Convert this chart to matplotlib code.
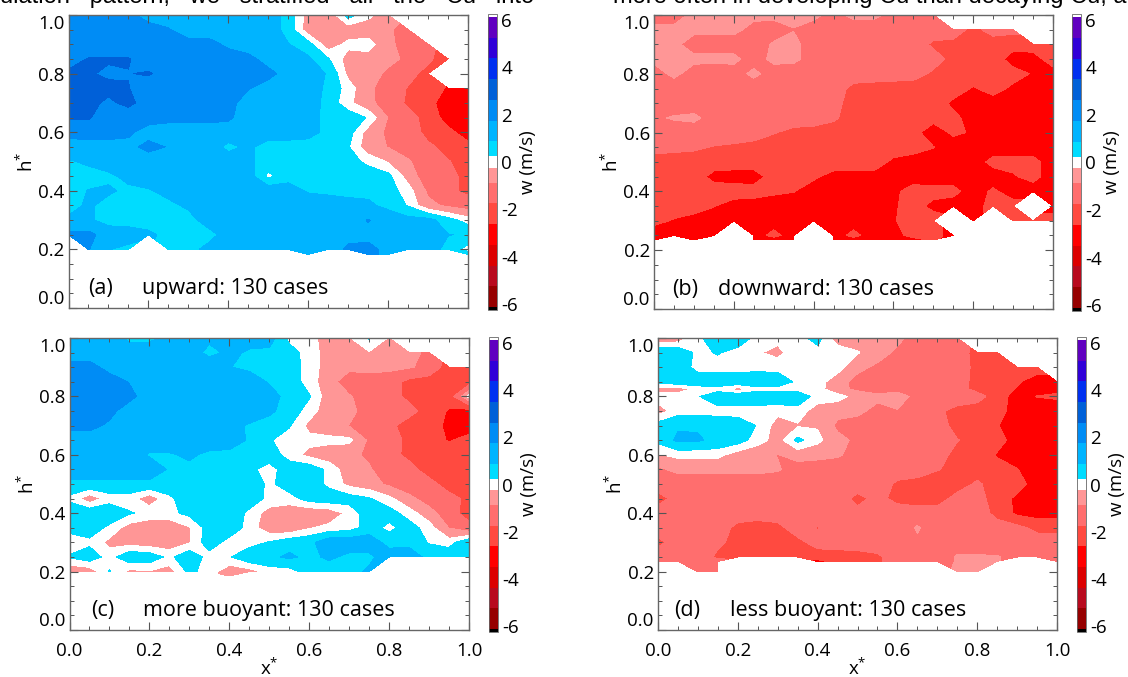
import numpy as np
import matplotlib
matplotlib.use('Agg')
import matplotlib.pyplot as plt

n = np.nan

# --- grid ---
x_star = [0.0, 0.05, 0.1, 0.15, 0.2, 0.25, 0.3, 0.35, 0.4, 0.45, 0.5,
          0.55, 0.6, 0.65, 0.7, 0.75, 0.8, 0.85, 0.9, 0.95, 1.0]
h_main = [1.0, 0.95, 0.9, 0.85, 0.8, 0.75, 0.7, 0.65, 0.6, 0.55, 0.5, 0.45, 0.4, 0.35, 0.3]

# colour steps of the w (m/s) bar
levels = [-6.25, -6.125, -5.25, -4.375, -3.5, -2.625, -1.75, -0.875, -0.25,
          0.25, 0.875, 1.75, 2.625, 3.5, 4.375, 5.25, 6.125, 6.25]
colors = ['#000000', '#960000', '#B80A1E', '#DC0000', '#FF0000', '#FF4A40', '#FF6E6E', '#FF9696',
          '#FFFFFF', '#00DCFF', '#00B4FF', '#008CF5', '#0060D8', '#0030F0', '#3000D8', '#6000C0', '#FFFFFF']
bar_ticks = [-6, -4, -2, 0, 2, 4, 6]

# (a) upward
h_a = h_main + [0.25, 0.2, 0.183]
w_a = [
    [2.0, 2.0, 2.0, 1.9, 1.5, 1.4, 1.4, 1.4, 1.4, 1.4, 1.3, 0.6, -0.5, -0.7, 0.5, -0.1, -0.6, n, n, n, n],
    [2.0, 2.0, 2.0, 2.0, 2.0, 1.8, 1.4, 1.4, 1.4, 1.4, 1.3, 0.6, -0.6, -0.6, -0.6, -0.6, -0.8, -1.1, n, n, n],
    [2.0, 2.0, 2.0, 2.0, 2.0, 2.0, 2.0, 2.0, 1.6, 1.3, 1.3, 0.9, 0.5, -0.6, -0.1, 0.0, -0.7, -1.2, -1.5, n, n],
    [2.2, 2.68, 2.7, 2.68, 2.2, 2.1, 2.1, 2.1, 2.1, 2.0, 1.4, 1.3, 1.0, 0.3, -0.5, -0.5, -0.7, -1.0, -1.6, -2.2, -2.1],
    [2.8, 2.7, 2.5, 2.6, 2.7, 2.3, 2.3, 2.3, 2.2, 2.1, 2.0, 1.4, 1.3, 0.8, -0.4, -0.6, -1.0, -1.5, -2.0, n, n],
    [3.0, 2.8, 2.8, 2.65, 2.2, 2.2, 2.2, 2.2, 2.1, 1.8, 1.4, 1.4, 1.3, 0.7, 0.0, -0.7, -1.3, -1.8, -2.3, -2.7, -2.8],
    [3.0, 2.8, 2.5, 2.8, 2.3, 2.2, 2.2, 2.2, 2.0, 1.4, 1.4, 1.4, 1.3, 0.6, -0.1, -0.7, -1.2, -1.9, -2.4, -3.0, -3.1],
    [2.7, 2.7, 2.2, 2.2, 2.1, 2.0, 2.0, 2.0, 1.9, 1.3, 1.3, 1.2, 1.1, 0.7, 0.6, 0.2, -0.9, -1.4, -2.1, -3.0, -3.1],
    [2.1, 2.1, 2.1, 1.9, 1.4, 1.3, 1.3, 1.3, 1.3, 1.1, 1.2, 1.2, 1.1, 0.7, 0.5, -0.5, -1.0, -1.3, -2.0, -2.4, -3.0],
    [1.3, 1.4, 1.4, 1.5, 2.0, 1.7, 1.3, 1.3, 0.7, 1.0, 0.6, 0.6, 0.6, 0.6, 0.3, -0.6, -0.9, -1.2, -1.6, -2.0, -2.4],
    [0.8, 1.0, 1.3, 1.3, 1.3, 1.3, 1.3, 1.3, 1.2, 1.0, 0.6, 0.6, 0.6, 0.6, 0.5, 0.1, -0.3, -0.8, -1.3, -1.7, -2.1],
    [0.6, 0.6, 0.7, 1.1, 1.3, 1.3, 1.3, 1.1, 1.2, 1.2, 0.1, 0.6, 0.6, 0.6, 0.6, 0.6, 0.4, -0.5, -1.3, -1.5, -2.0],
    [0.6, 0.9, 1.0, 0.7, 0.8, 1.1, 1.3, 1.3, 1.3, 1.3, 1.3, 1.2, 0.8, 0.7, 0.6, 0.7, 0.5, 0.0, -1.0, -1.5, -2.0],
    [0.6, 1.0, 0.6, 0.5, 0.6, 0.7, 1.0, 1.3, 1.3, 0.9, 1.3, 1.3, 1.3, 1.3, 1.2, 1.0, 0.7, 0.2, -0.7, -1.0, -1.2],
    [1.0, 1.0, 0.6, 0.6, 0.6, 0.5, 0.6, 1.2, 1.3, 0.9, 1.3, 1.3, 1.3, 1.3, 1.3, 1.8, 1.3, 1.1, 1.1, 0.5, 0.0],
    [2.0, 2.0, 1.3, 1.2, 1.0, 0.7, 0.6, 0.6, 1.2, 0.9, 1.3, 1.3, 1.3, 1.3, 1.5, 1.5, 1.3, 1.3, 1.3, 0.9, 0.8],
    [n, 1.8, 0.9, 0.7, n, 0.6, 0.6, 1.1, 1.2, 1.3, 1.3, 1.3, 1.3, 1.3, 1.9, 2.0, 1.5, 1.3, 1.3, 0.6, 0.0],
    [n, n, n, n, n, n, n, n, n, n, n, n, 1.3, n, n, 1.9, 1.6, n, n, n, 0.6],
]

# (b) downward
h_b = h_main + [0.25, 0.235]
w_b = [
    [-1.2, -1.2, -0.7, -0.7, -0.9, -0.7, -0.7, -0.7, -0.7, -1.1, -0.7, -0.7, -1.1, -1.2, -1.2, n, n, n, n, n, n],
    [-0.7, -0.7, -0.7, -0.7, -0.7, -1.1, -1.2, -0.9, -1.2, -1.3, -1.3, -1.3, -1.3, -1.3, -1.3, -1.3, -2.0, -1.4, -1.5, n, n],
    [-0.7, -0.7, -1.2, -1.2, -1.2, -1.2, -0.8, -0.7, -1.2, -1.3, -1.3, -1.3, -1.3, -1.3, -1.9, -2.0, -2.1, -2.2, -2.3, -2.2, -2.2],
    [-0.7, -0.7, -0.7, -0.7, -0.7, -1.2, -0.7, -0.7, -1.2, -1.3, -1.3, -1.3, -1.3, -1.3, -1.4, -2.0, -2.2, -2.2, -3.0, -3.0, -2.2],
    [-1.2, -0.7, -1.2, -1.3, -1.2, -0.7, -1.2, -1.3, -1.3, -1.3, -1.3, -1.3, -1.3, -1.4, -1.9, -2.2, -2.2, -2.2, -2.3, -2.7, -3.0],
    [-1.3, -1.3, -1.3, -1.3, -1.3, -1.3, -1.3, -1.3, -1.3, -1.3, -2.0, -2.1, -2.2, -2.2, -2.2, -2.2, -2.7, -2.3, -2.8, -3.0, -3.0],
    [-1.2, -1.3, -1.3, -1.3, -1.3, -1.3, -1.3, -1.6, -1.3, -1.4, -2.2, -2.2, -2.2, -2.2, -2.2, -2.8, -3.0, -3.0, -3.0, -3.0, -3.0],
    [-1.0, -0.8, -0.7, -1.2, -1.3, -1.3, -1.3, -1.3, -1.3, -1.6, -2.2, -2.2, -2.2, -2.4, -2.4, -2.4, -3.0, -3.0, -3.0, -3.0, -2.9],
    [-1.3, -1.3, -1.3, -1.3, -1.3, -1.3, -1.7, -2.0, -2.1, -2.2, -2.2, -2.2, -2.2, -2.4, -3.0, -2.5, -2.7, -3.0, -3.0, -3.0, -3.0],
    [-1.4, -1.5, -1.6, -1.8, -1.9, -2.1, -2.2, -2.2, -2.2, -2.2, -2.2, -2.2, -2.2, -2.3, -2.6, -3.0, -3.0, -3.0, -3.0, -3.0, -3.0],
    [-2.2, -2.2, -2.2, -2.2, -2.2, -2.2, -2.2, -2.2, -2.2, -2.2, -2.2, -2.2, -2.8, -3.0, -3.0, -3.0, -3.0, -2.4, -2.4, -2.4, -3.0],
    [-2.5, -2.2, -2.2, -2.9, -3.0, -3.0, -2.3, -2.3, -2.5, -2.9, -2.9, -2.9, -2.8, -3.0, -3.0, -3.0, -3.0, -3.0, -2.7, -2.4, -3.0],
    [-2.2, -2.2, -2.2, -2.2, -2.2, -2.3, -2.5, -2.6, -3.0, -3.0, -3.0, -3.0, -2.8, -2.3, -2.4, -2.4, -3.0, -2.5, -3.0, -3.0, -3.0],
    [-2.3, -2.2, -2.2, -2.6, -3.0, -3.0, -3.0, -3.0, -3.0, -3.0, -3.0, -3.0, -2.7, -2.4, -2.8, -3.0, -3.0, -2.3, -2.3, n, -3.0],
    [-2.4, -2.7, -3.0, -3.0, -3.0, -3.0, -3.0, -3.0, -3.0, -3.0, -3.0, -3.0, -2.7, -2.2, -2.3, n, -3.0, n, -2.5, -2.3, -2.3],
    [-3.1, -3.2, -3.1, -3.1, n, -3.0, -2.4, -3.0, n, -3.0, -2.4, -3.0, -3.0, -2.3, -2.3, -3.0, n, n, n, n, n],
    [-3.2, n, -3.2, n, n, -3.0, -3.0, -3.0, n, -3.0, -3.0, -3.0, -3.0, -3.0, -2.4, n, n, n, n, n, n],
]

# (c) more buoyant
h_c = h_main + [0.25, 0.2, 0.185]
w_c = [
    [1.3, 1.3, 1.3, 0.7, 0.7, 1.1, 1.2, 1.0, 0.9, 1.1, 1.2, 0.1, 0.0, -0.6, -0.3, 0.3, -0.3, n, n, n, n],
    [1.4, 1.4, 1.4, 1.3, 1.3, 1.3, 1.2, 0.7, 1.0, 0.8, 0.7, 0.5, 0.0, -0.5, -0.6, -0.3, -0.6, -0.7, -1.0, n, n],
    [2.0, 2.0, 1.5, 1.3, 1.3, 1.3, 1.3, 1.3, 0.9, 0.7, 0.7, 0.6, 0.0, -0.5, -0.7, -0.6, -0.7, -0.8, -1.1, -2.2, -2.2],
    [2.1, 2.1, 2.1, 1.7, 1.3, 1.3, 1.3, 1.3, 1.3, 1.3, 0.8, 0.6, 0.0, -0.6, -1.3, -1.3, -1.3, -2.0, -2.2, -2.2, -2.2],
    [2.1, 2.1, 2.1, 2.0, 1.3, 1.3, 1.3, 1.3, 1.3, 1.3, 1.2, 0.6, 0.3, -0.6, -0.8, -1.3, -1.3, -2.0, -2.2, -2.3, 0.0],
    [2.0, 2.0, 2.0, 1.3, 1.3, 1.3, 1.3, 1.3, 1.3, 1.3, 1.0, 0.6, 0.0, -0.6, -0.6, -1.3, -1.3, -1.4, -2.2, -2.7, -3.0],
    [2.0, 2.0, 1.6, 1.3, 1.3, 1.3, 1.3, 1.1, 1.1, 0.8, 0.6, 0.3, -0.4, -0.6, -0.9, -1.3, -1.5, -2.2, -2.3, -2.8, -3.1],
    [1.3, 1.3, 1.3, 1.3, 1.3, 1.3, 1.4, 1.3, 1.2, 0.8, 0.3, 0.0, -0.1, -0.1, -0.1, -1.0, -1.3, -2.0, -2.2, -2.7, -2.3],
    [1.3, 1.3, 1.3, 1.2, 0.8, 0.8, 1.0, 0.7, 0.7, 0.7, 0.6, 0.0, -0.4, -0.6, -0.7, -1.0, -1.4, -2.0, -2.2, -2.2, -2.3],
    [1.3, 1.3, 1.3, 1.3, 1.3, 0.8, 0.7, 0.7, 0.7, 0.4, 0.0, 0.6, 0.6, 0.1, -0.6, -0.8, -1.3, -1.4, -2.2, -2.2, -2.3],
    [0.7, 0.7, 0.7, 0.7, 0.7, 0.7, 0.7, 0.7, 0.7, 0.7, 0.1, 0.6, 0.6, 0.1, -0.4, -0.6, -1.0, -1.3, -1.4, -2.2, -2.2],
    [0.1, -0.6, 0.0, 0.0, -0.6, 0.1, 0.7, 0.7, 0.7, 0.6, 0.1, 0.0, 0.5, 0.6, 0.5, 0.3, -0.1, -0.7, -1.2, -1.4, -2.0],
    [0.7, 0.7, 0.7, 0.3, 0.1, 0.1, 0.4, 0.7, 0.7, 0.1, -0.5, -0.6, -0.7, -0.6, -0.1, 0.6, 0.5, 0.0, -0.6, -1.3, -2.2],
    [0.4, 0.6, 0.1, -0.5, -0.7, -0.7, -0.3, 0.5, 0.7, 0.0, -0.6, -0.7, -0.3, -0.1, 0.0, 0.5, 0.1, 0.5, 0.0, -0.9, -1.4],
    [0.0, 0.1, -0.4, -0.5, -0.6, -0.6, -0.3, 0.6, 0.0, 0.0, 0.3, 0.6, 0.7, 1.3, 1.3, 1.3, 0.6, 0.7, 0.2, 0.0, 0.8],
    [0.3, 0.6, 0.0, 0.7, 0.6, 0.1, 0.7, 0.0, 0.2, 0.7, 0.7, 1.0, 0.7, 1.0, 0.7, 0.7, 1.3, 1.2, 0.7, 0.7, 0.6],
    [-0.7, -0.6, 0.3, -0.4, -0.3, -0.5, 0.4, 0.0, -0.6, -0.5, 0.0, 0.0, 0.5, 0.5, 0.6, 1.0, n, n, n, n, n],
    [n, n, n, n, n, n, n, n, -0.6, n, n, n, n, n, n, n, n, n, n, n, n],
]

# (d) less buoyant
h_d = [1.0, 0.95, 0.9, 0.85, 0.825, 0.8] + h_main[5:] + [0.25, 0.235, 0.2]
w_d = [
    [-0.7, -0.6, 0.1, 0.7, 0.7, 0.0, -0.1, 0.0, 0.5, -0.6, -0.6, -0.7, -0.7, -1.2, -1.3, -1.3, n, n, n, n, n],
    [0.7, 0.7, 0.1, 0.3, 0.0, -0.2, -0.4, 0.1, 0.0, 0.1, -0.2, -0.6, -1.0, -1.3, -1.3, -1.4, -2.0, -2.0, n, n, n],
    [0.7, 0.7, 0.0, 0.0, 0.0, 0.0, 0.0, 0.2, 0.0, 0.0, -0.7, -1.0, -1.3, -1.3, -1.3, -1.3, -2.0, -2.2, -2.2, -2.2, n],
    [0.5, 0.6, 0.7, 0.7, 0.7, 0.8, 0.7, 0.1, 0.0, -0.6, -1.1, -1.3, -1.4, -1.4, -1.3, -1.4, -2.0, -2.2, -2.5, -3.1, -3.0],
    [-0.5, -0.5, -0.1, 0.0, -0.5, 0.0, 0.0, 0.0, 0.0, -0.7, -1.0, -1.2, -1.0, -1.3, -1.3, -1.4, -2.0, -2.2, -2.7, -3.0, -2.8],
    [0.0, 0.0, 0.2, 0.7, 0.8, 0.8, 0.7, 0.7, 0.0, 0.0, -0.5, -0.7, -0.7, -1.0, -1.3, -1.3, -1.4, -2.2, -3.0, -2.6, -2.5],
    [-0.5, 0.0, 0.0, 0.0, -0.1, -0.1, -0.1, 0.0, -0.5, -0.7, -0.7, -1.1, -0.9, -1.2, -1.6, -2.0, -2.2, -2.3, -3.0, -3.1, -3.1],
    [0.5, 0.8, 0.8, 0.7, 0.7, 0.2, -0.5, -0.3, -0.3, -1.0, -1.2, -1.0, -1.3, -1.3, -1.3, -2.1, -2.2, -2.6, -2.9, -3.1, -3.1],
    [0.4, 1.0, 0.95, 0.7, 0.5, 0.0, -0.5, 0.4, -0.1, -0.7, -1.0, -1.3, -1.3, -1.3, -1.4, -1.7, -2.2, -2.3, -3.0, -3.0, -2.9],
    [-0.3, -0.1, -0.1, -0.1, -0.5, -0.7, -0.9, -0.6, -0.7, -0.8, -1.1, -1.3, -1.3, -1.3, -1.3, -2.1, -2.2, -2.7, -3.0, -3.0, -3.0],
    [-1.0, -0.7, -0.7, -0.7, -0.7, -0.7, -0.8, -1.2, -1.2, -1.2, -1.3, -1.3, -1.3, -1.3, -1.7, -2.0, -2.2, -2.3, -2.6, -3.0, -3.0],
    [-1.3, -1.3, -1.3, -1.3, -1.3, -1.3, -1.3, -1.3, -1.3, -1.3, -1.3, -1.3, -1.9, -2.1, -2.2, -2.2, -1.6, -2.2, -2.3, -3.0, -3.0],
    [-2.1, -1.4, -1.3, -1.3, -1.3, -1.3, -1.3, -1.3, -1.3, -1.3, -2.0, -1.5, -2.0, -2.2, -2.2, -1.4, -1.4, -2.2, -2.8, -2.7, -3.0],
    [-1.3, -1.3, -1.3, -1.3, -1.3, -1.3, -1.3, -1.3, -1.3, -1.3, -1.5, -1.3, -1.3, -1.3, -1.3, -1.4, -1.3, -2.0, -2.8, -3.0, -3.0],
    [-1.3, -1.3, -1.5, -1.3, -2.0, -2.2, -2.0, -1.3, -1.8, -1.3, -1.3, -1.3, -1.3, -0.8, -1.3, -1.7, -1.3, -1.4, -1.5, -2.0, -2.0],
    [-2.0, -1.3, -1.4, -1.6, -2.0, -1.9, -2.1, -2.0, -1.4, -1.3, -1.3, -1.3, -1.3, -1.0, -1.3, -1.3, -1.8, -1.5, -1.3, -1.3, -1.3],
    [-1.2, -1.3, -1.3, -1.9, -2.0, -2.2, -2.2, -2.0, -2.2, -2.2, -2.1, -1.9, -1.3, -1.3, -1.3, -0.8, -0.7, -0.8, -1.3, -1.3, -1.3],
    [-1.3, -1.3, -1.3, -1.5, n, n, n, n, -2.9, -2.3, -2.2, -1.9, -1.3, -1.3, -1.3, -0.8, -0.7, -0.8, n, n, -1.3],
    [n, n, -1.3, -1.3, n, n, n, n, n, n, n, n, n, n, n, -0.7, -0.7, n, n, n, -1.3],
]

plt.rcParams['font.family'] = ['Open Sans', 'DejaVu Sans']
plt.rcParams['axes.unicode_minus'] = False
plt.rcParams['mathtext.default'] = 'regular'

W, H = 1128, 677
fig = plt.figure(figsize=(W / 100, H / 100), dpi=100)


def px_axes(left, top, right, bottom):
    return fig.add_axes([left / W, 1 - bottom / H, (right - left) / W, (bottom - top) / H])


def panel(w, hs, box, bar_x, tag, tag_x, title, title_x, bottom_row):
    ax = px_axes(*box)
    cf = ax.contourf(x_star, hs, np.ma.masked_invalid(np.array(w)), levels=levels, colors=colors)
    ax.set_xlim(0, 1)
    ax.set_ylim(0, 1)
    ax.set_xticks(np.arange(0, 1.01, 0.2))
    ax.set_yticks(np.arange(0, 1.01, 0.2))
    ax.set_xticks(np.arange(0, 1.01, 0.05), minor=True)
    ax.set_yticks(np.arange(0, 1.01, 0.05), minor=True)
    ax.tick_params(which='major', direction='in', top=True, right=True, length=6, width=0.8,
                   color='#555555', labelsize=13.5, pad=3, labelbottom=bottom_row)
    ax.tick_params(which='minor', direction='in', top=True, right=True, length=3, width=0.7, color='#555555')
    ax.tick_params(axis='x', which='major', pad=9)
    for s in ax.spines.values():
        s.set_color('#666666')
        s.set_linewidth(1.0)
    ax.set_yticklabels(['0.0', '0.2', '0.4', '0.6', '0.8', '1.0'])
    labs = ax.get_yticklabels()
    labs[0].set_verticalalignment('bottom')
    labs[-1].set_verticalalignment('top')
    if bottom_row:
        ax.set_xticklabels(['0.0', '0.2', '0.4', '0.6', '0.8', '1.0'])
        ax.set_xlabel('x$^{*}$', fontsize=13.5, labelpad=-2)
    ax.set_ylabel('h$^{*}$', fontsize=13.5, labelpad=1)
    ax.text(tag_x, 0.03, tag, fontsize=15.5, va='bottom', ha='left')
    ax.text(title_x, 0.03, title, fontsize=15.5, va='bottom', ha='left')

    cax = px_axes(bar_x, box[1] - 1, bar_x + 9, box[3] + 2)
    cb = fig.colorbar(cf, cax=cax, spacing='proportional', ticks=bar_ticks)
    cb.ax.tick_params(labelsize=13.5, length=0, pad=3)
    cb.ax.set_yticklabels([str(t) for t in bar_ticks])
    cb.outline.set_edgecolor('#666666')
    cb.outline.set_linewidth(0.6)
    cb.set_label('w (m/s)', fontsize=13.5, labelpad=1)


panel(w_a, h_a, (68.5, 15, 468, 308), 488, '(a)', 0.05, 'upward: 130 cases', 0.185, False)
panel(w_b, h_b, (654, 15, 1053, 309), 1072, '(b)', 0.045, 'downward: 130 cases', 0.16, False)
panel(w_c, h_c, (69.5, 338, 469, 630), 489, '(c)', 0.055, 'more buoyant: 130 cases', 0.185, True)
panel(w_d, h_d, (658, 338, 1057, 630), 1077, '(d)', 0.04, 'less buoyant: 130 cases', 0.18, True)

# running text of the page, cut by the top edge
fig.text(0 / W, 1 - 3 / H, 'ulation   pattern,   we   stratified   all   the   Cu   into', fontsize=17,
         family='Liberation Sans', va='baseline', ha='left')
fig.text(613 / W, 1 - 3 / H, 'more often in developing Cu than decaying Cu, a', fontsize=17,
         family='Liberation Sans', va='baseline', ha='left')

fig.savefig('out.png', dpi=100)
